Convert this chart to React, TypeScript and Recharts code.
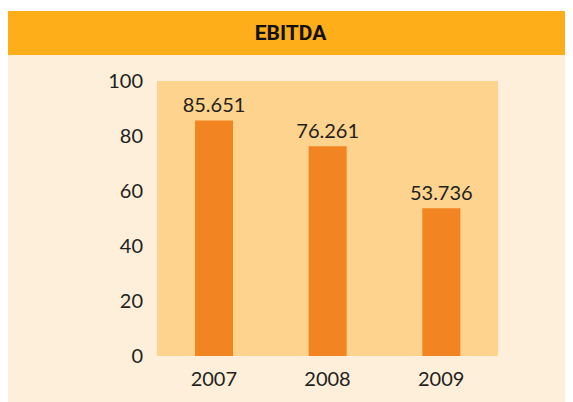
import React from 'react';
import { BarChart, Bar, XAxis, YAxis, CartesianGrid, LabelList } from 'recharts';

const years = ['2007', '2008', '2009'];
const ebitda = [85.651, 76.261, 53.736];
const yTicks = [0, 20, 40, 60, 80, 100];

const data = years.map((year, i) => ({ year, value: ebitda[i] }));

const font = "Lato, 'Open Sans', sans-serif";
const textStyle = { fontSize: 20, fill: '#231F20', fontFamily: font, fontWeight: 400 };

export default function App() {
  return (
    <div style={{ marginTop: 3, width: 565, height: 391, background: '#FEEFDA', fontFamily: font }}>
      <div
        style={{
          height: 44,
          background: '#FDAE18',
          display: 'flex',
          alignItems: 'center',
          justifyContent: 'center',
          fontFamily: 'Roboto, sans-serif',
          fontWeight: 700,
          fontSize: 21,
          color: '#111',
        }}
      >
        EBITDA
      </div>
      <BarChart
        width={565}
        height={347}
        data={data}
        margin={{ top: 26, right: 75, left: 0, bottom: 0 }}
        barCategoryGap={0}
      >
        <CartesianGrid fill="#FED38D" horizontal={false} vertical={false} />
        <XAxis
          dataKey="year"
          height={46}
          axisLine={false}
          tickLine={false}
          tickSize={0}
          tickMargin={16}
          tick={textStyle}
        />
        <YAxis
          width={149}
          domain={[0, 100]}
          ticks={yTicks}
          axisLine={false}
          tickLine={false}
          tickSize={0}
          tickMargin={14}
          tick={textStyle}
        />
        <Bar dataKey="value" fill="#F38422" barSize={38} isAnimationActive={false}>
          <LabelList
            dataKey="value"
            position="top"
            offset={8}
            formatter={(v: number) => v.toFixed(3)}
            style={textStyle}
          />
        </Bar>
      </BarChart>
    </div>
  );
}
